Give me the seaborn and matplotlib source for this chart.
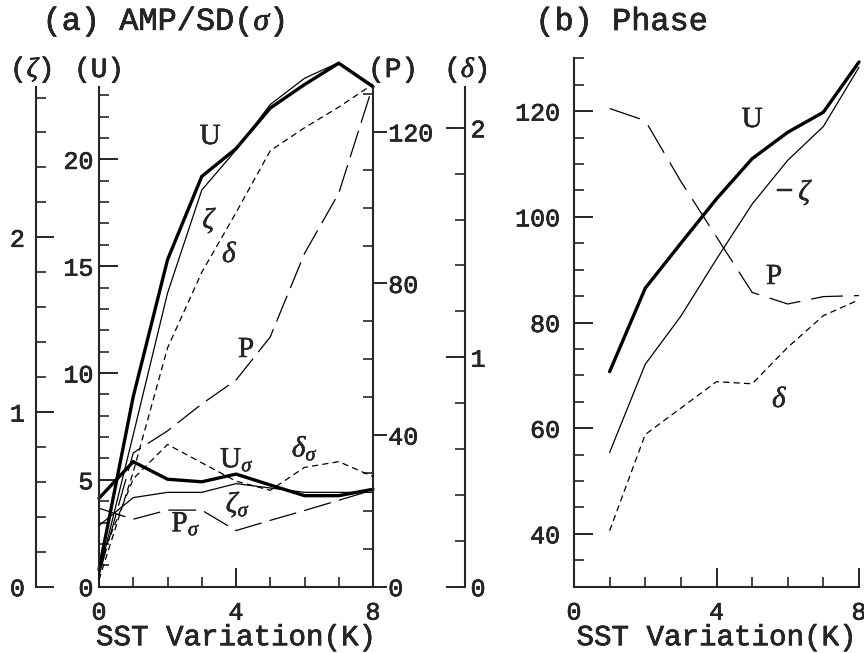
import matplotlib
matplotlib.use("Agg")
import matplotlib.pyplot as plt
import matplotlib.patheffects as pe
import seaborn as sns
import pandas as pd
from matplotlib.ticker import MultipleLocator, FixedLocator

# ---------------- data ----------------
sst = [0, 1, 2, 3, 4, 5, 6, 7, 8]
amp_U = [0.8, 8.9, 15.3, 19.2, 20.5, 22.4, 23.5, 24.5, 23.4]
amp_zeta = [0.07, 0.87, 1.68, 2.27, 2.50, 2.76, 2.91, 3.00, 2.87]
amp_delta = [0.03, 0.50, 1.04, 1.37, 1.63, 1.90, 2.00, 2.09, 2.19]
amp_P = [3.0, 35.3, 41.1, 48.2, 54.5, 65.9, 87.9, 103.8, 132.3]
sd_U = [4.14, 5.85, 5.03, 4.91, 5.27, 4.76, 4.26, 4.26, 4.56]
sd_zeta = [0.35, 0.51, 0.54, 0.54, 0.59, 0.565, 0.54, 0.54, 0.54]
sd_delta = [0.10, 0.47, 0.62, 0.54, 0.46, 0.42, 0.52, 0.545, 0.48]
sd_P = [20.7, 17.8, 20.2, 20.2, 14.8, 17.5, 20.1, 22.8, 25.5]

sst_b = [1, 2, 3, 4, 5, 6, 7, 8]
ph_U = [70.7, 86.5, 95.0, 103.4, 111.0, 116.0, 119.8, 129.3]
ph_zeta = [55.4, 72.1, 81.2, 92.0, 102.4, 110.7, 117.1, 128.3]
ph_P = [120.5, 118.2, 106.7, 96.2, 85.7, 83.5, 84.9, 85.1]
ph_delta = [40.6, 58.8, 63.8, 68.8, 68.4, 75.3, 81.3, 84.3]

# ---------------- style ----------------
sns.set_style("ticks")
plt.rcParams["font.family"] = ["Liberation Mono", "DejaVu Sans"]
plt.rcParams["mathtext.fontset"] = "custom"
plt.rcParams["mathtext.rm"] = "Liberation Serif"
plt.rcParams["mathtext.it"] = "Liberation Serif:italic"
plt.rcParams["lines.scale_dashes"] = False
plt.rcParams["axes.linewidth"] = 1.5

W, H = 864, 653
fig = plt.figure(figsize=(W / 100, H / 100), dpi=100)

def fx(px):
    return px / W

def fy(py):
    return 1 - py / H

TICK_FS = 18
SERIF = "Liberation Serif"
MONO = "Liberation Mono"
BOLDEN = [pe.withStroke(linewidth=0.45, foreground="black")]
BOLDEN_S = [pe.withStroke(linewidth=0.3, foreground="black")]

THICK, THIN = 2.4, 0.9
SHORT = (0, (4.5, 3.0))
LONG = (0, (20, 6))

dfa = pd.DataFrame({"sst": sst, "amp_U": amp_U, "amp_zeta": amp_zeta,
                    "amp_delta": amp_delta, "amp_P": amp_P, "sd_U": sd_U,
                    "sd_zeta": sd_zeta, "sd_delta": sd_delta, "sd_P": sd_P})
dfb = pd.DataFrame({"sst": sst_b, "U": ph_U, "zeta": ph_zeta,
                    "P": ph_P, "delta": ph_delta})

# ---------------- panel (a) ----------------
left, right, top, bot = 99, 373, 86.7, 586.7
axU = fig.add_axes([fx(left), fy(bot), (right - left) / W, (bot - top) / H])
axP = axU.twinx()
axZ = axU.twinx()
axD = axU.twinx()

def draw(ax, df, col, lw, ls):
    sns.lineplot(data=df, x="sst", y=col, ax=ax, color="black",
                 linewidth=lw, clip_on=False, legend=False)
    ln = ax.lines[-1]
    ln.set_linestyle(ls)
    ln.set_clip_on(False)
    ln.set_solid_joinstyle("miter")

draw(axU, dfa, "amp_U", THICK, "-")
draw(axU, dfa, "sd_U", THICK, "-")
draw(axZ, dfa, "amp_zeta", THIN, "-")
draw(axZ, dfa, "sd_zeta", THIN, "-")
draw(axD, dfa, "amp_delta", THIN, SHORT)
draw(axD, dfa, "sd_delta", THIN, SHORT)
draw(axP, dfa, "amp_P", THIN, LONG)
draw(axP, dfa, "sd_P", THIN, LONG)

for a in (axU, axP, axZ, axD):
    a.set_xlim(0, 8)
    a.set_xlabel("")
    a.set_ylabel("")
    for s in a.spines.values():
        s.set_visible(False)

axU.set_ylim(0, 23.4)
axP.set_ylim(0, 131.9)
axZ.set_ylim(0, 2.862)
axD.set_ylim(0, 2.179)

# U axis (left)
axU.spines["left"].set_visible(True)
axU.spines["bottom"].set_visible(True)
axU.yaxis.set_major_locator(FixedLocator([0, 5, 10, 15, 20]))
axU.yaxis.set_minor_locator(MultipleLocator(1))
axU.tick_params(axis="y", which="major", direction="in", length=14, width=1.4,
                labelsize=TICK_FS, pad=4, left=True, right=False)
axU.tick_params(axis="y", which="minor", direction="in", length=7, width=1.2,
                left=True, right=False)
axU.xaxis.set_major_locator(FixedLocator([0, 4, 8]))
axU.xaxis.set_minor_locator(MultipleLocator(1))
axU.tick_params(axis="x", which="major", direction="in", length=14, width=1.4,
                labelsize=TICK_FS, pad=10, top=False)
axU.tick_params(axis="x", which="minor", direction="in", length=7, width=1.2,
                top=False)
axU.set_xlabel("SST Variation(K)", fontsize=21, fontfamily=MONO, labelpad=-1)

# P axis (right spine)
axP.spines["right"].set_visible(True)
axP.yaxis.set_major_locator(FixedLocator([0, 40, 80, 120]))
axP.yaxis.set_minor_locator(MultipleLocator(10))
axP.tick_params(axis="y", which="major", direction="out", length=10, width=1.4,
                labelsize=TICK_FS, pad=1, right=True, left=False)
axP.tick_params(axis="y", which="minor", direction="in", length=7, width=1.2,
                right=True, left=False)
axP.tick_params(axis="x", which="both", bottom=False, top=False,
                labelbottom=False)

# zeta axis (detached left)
axZ.spines["left"].set_visible(True)
axZ.spines["left"].set_position(("axes", (36 - left) / (right - left)))
axZ.yaxis.set_ticks_position("left")
axZ.yaxis.set_label_position("left")
axZ.yaxis.set_major_locator(FixedLocator([0, 1, 2]))
axZ.yaxis.set_minor_locator(MultipleLocator(0.2))
axZ.tick_params(axis="y", which="major", direction="in", length=13, width=1.4,
                labelsize=TICK_FS, pad=8)
axZ.tick_params(axis="y", which="minor", direction="in", length=7, width=1.2)
axZ.tick_params(axis="x", which="both", bottom=False, top=False,
                labelbottom=False)

# delta axis (detached right)
axD.spines["right"].set_visible(True)
axD.spines["right"].set_position(("axes", (465 - left) / (right - left)))
axD.yaxis.set_major_locator(FixedLocator([0, 1, 2]))
axD.yaxis.set_minor_locator(MultipleLocator(0.2))
axD.tick_params(axis="y", which="major", direction="in", length=14, width=1.4,
                labelsize=TICK_FS, pad=4, right=True, left=False)
axD.tick_params(axis="y", which="minor", direction="in", length=7, width=1.2,
                right=True, left=False)
axD.tick_params(axis="x", which="both", bottom=False, top=False,
                labelbottom=False)

# ---------------- panel (b) ----------------
bl, br, bt = 574, 859, 58.3
axB = fig.add_axes([fx(bl), fy(bot), (br - bl) / W, (bot - bt) / H])
draw(axB, dfb, "U", THICK, "-")
draw(axB, dfb, "zeta", THIN, "-")
draw(axB, dfb, "P", THIN, (0, (23, 8)))
draw(axB, dfb, "delta", THIN, SHORT)
axB.set_xlim(0, 8)
axB.set_ylim(30, 130)
axB.spines["top"].set_visible(False)
axB.spines["right"].set_visible(False)
axB.set_ylabel("")
axB.yaxis.set_major_locator(FixedLocator([40, 60, 80, 100, 120]))
axB.yaxis.set_minor_locator(MultipleLocator(5))
axB.tick_params(axis="y", which="major", direction="in", length=14, width=1.4,
                labelsize=TICK_FS, pad=10)
axB.tick_params(axis="y", which="minor", direction="in", length=7, width=1.2)
axB.xaxis.set_major_locator(FixedLocator([0, 4, 8]))
axB.xaxis.set_minor_locator(MultipleLocator(1))
axB.tick_params(axis="x", which="major", direction="in", length=14, width=1.4,
                labelsize=TICK_FS, pad=10)
axB.tick_params(axis="x", which="minor", direction="in", length=7, width=1.2)
axB.set_xlabel("SST Variation(K)", fontsize=21, fontfamily=MONO, labelpad=-1)

for a in (axU, axP, axZ, axD, axB):
    for lab in a.get_yticklabels() + a.get_xticklabels():
        lab.set_fontfamily(MONO)
        lab.set_path_effects(BOLDEN)
    a.xaxis.label.set_path_effects(BOLDEN)

# ---------------- texts ----------------
def t(px, py, s, fs=21, fam=SERIF, eff=BOLDEN_S, **kw):
    fig.text(fx(px), fy(py), s, fontsize=fs, fontfamily=fam,
             ha="center", va="center", path_effects=eff, **kw)

t(164, 22, "(a) AMP/SD($\\sigma$)", fs=23, fam=MONO, eff=BOLDEN)
t(622, 22, "(b) Phase", fs=23, fam=MONO, eff=BOLDEN)
t(31, 70, "($\\zeta$)", fs=20, fam=MONO, eff=BOLDEN)
t(99, 70, "(U)", fs=20, fam=MONO, eff=BOLDEN)
t(393, 70, "(P)", fs=20, fam=MONO, eff=BOLDEN)
t(466, 70, "($\\delta$)", fs=20, fam=MONO, eff=BOLDEN)

t(210, 137, "U")
t(210, 221, "$\\zeta$")
t(230, 255, "$\\delta$")
t(246, 350, "P")
t(237, 460, "U$_\\sigma$")
t(305, 448, "$\\delta_\\sigma$")
t(238, 505, "$\\zeta_\\sigma$")
t(186, 524, "P$_\\sigma$")

t(752, 120, "U")
t(785, 190, "\u2013", fs=21)
t(806, 193, "$\\zeta$")
t(774, 277, "P")
t(780, 400, "$\\delta$")

fig.savefig("out.png", dpi=100)
